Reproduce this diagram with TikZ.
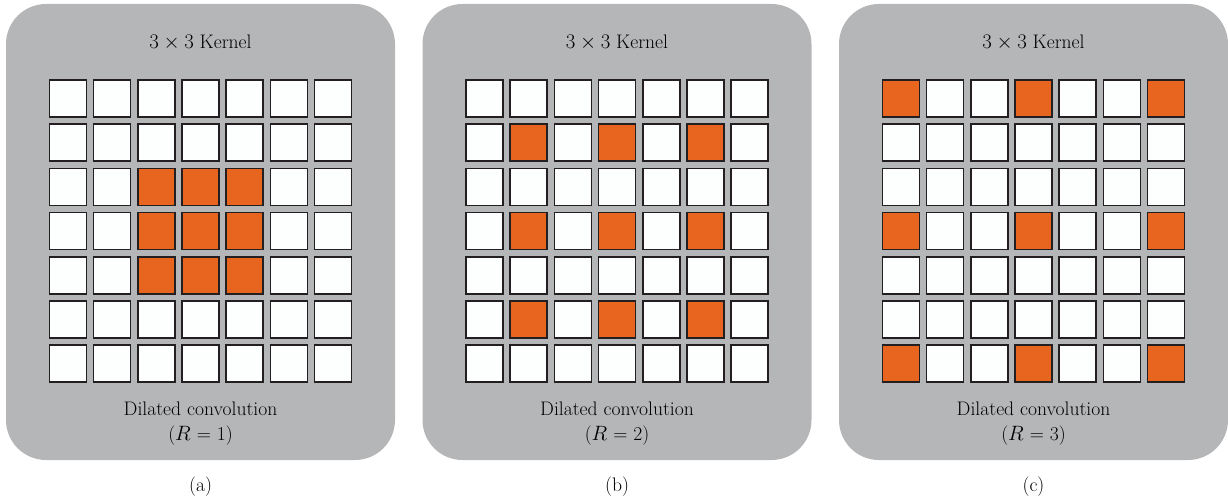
\documentclass[tikz,border=0pt]{standalone}
\usetikzlibrary{positioning}
\definecolor{panelgray}{HTML}{B5B6B8}
\definecolor{hotcell}{HTML}{E86520}
\definecolor{cellline}{HTML}{231F20}
\definecolor{cellwhite}{HTML}{FDFEFE}
\tikzset{
  panel/.style={fill=panelgray, draw=none, rounded corners=40pt},
  cell/.style={draw=cellline, line width=1.6pt, fill=cellwhite, minimum size=37pt, inner sep=0pt, outer sep=0pt},
  hot/.style={cell, fill=hotcell},
  caption/.style={font=\fontsize{19.6}{23}\selectfont, align=center, inner sep=0pt},
  sublabel/.style={font=\fontsize{19.6}{23}\selectfont, inner sep=0pt}
}
\begin{document}
\begin{tikzpicture}[x=1pt, y=-1pt]
\useasboundingbox (0,0) rectangle (1228,500);
% three panels: centre x, dilation rate, sub-label
\foreach \cx/\rate/\lab [count=\p] in {200.5/1/a, 617/2/b, 1033.5/3/c} {
  \fill[panel] (\cx-194.5,4) rectangle (\cx+194.5,460);
  \node[caption] (title\p) at (\cx,43) {$3\times 3$ Kernel};
  \node[caption] (desc\p) at (\cx,409) {Dilated convolution};
  \node[caption] (rate\p) at (\cx,436) {($R$ = \rate)};
  \node[sublabel] (sub\p) at (\cx,487) {(\lab)};
  % 7x7 grid; kernel taps sit at offsets -R,0,R around the centre cell
  \foreach \r in {0,...,6} {
    \foreach \c in {0,...,6} {
      \pgfmathtruncatemacro{\dr}{abs(\r-3)}
      \pgfmathtruncatemacro{\dc}{abs(\c-3)}
      \pgfmathtruncatemacro{\tap}{(\dr==0 || \dr==\rate) && (\dc==0 || \dc==\rate) ? 1 : 0}
      \ifnum\tap=1
        \node[hot] (g\p-\r-\c) at (\cx+44.2*\c-132.6, 98.5+44.2*\r) {};
      \else
        \node[cell] (g\p-\r-\c) at (\cx+44.2*\c-132.6, 98.5+44.2*\r) {};
      \fi
    }
  }
}
\end{tikzpicture}
\end{document}
